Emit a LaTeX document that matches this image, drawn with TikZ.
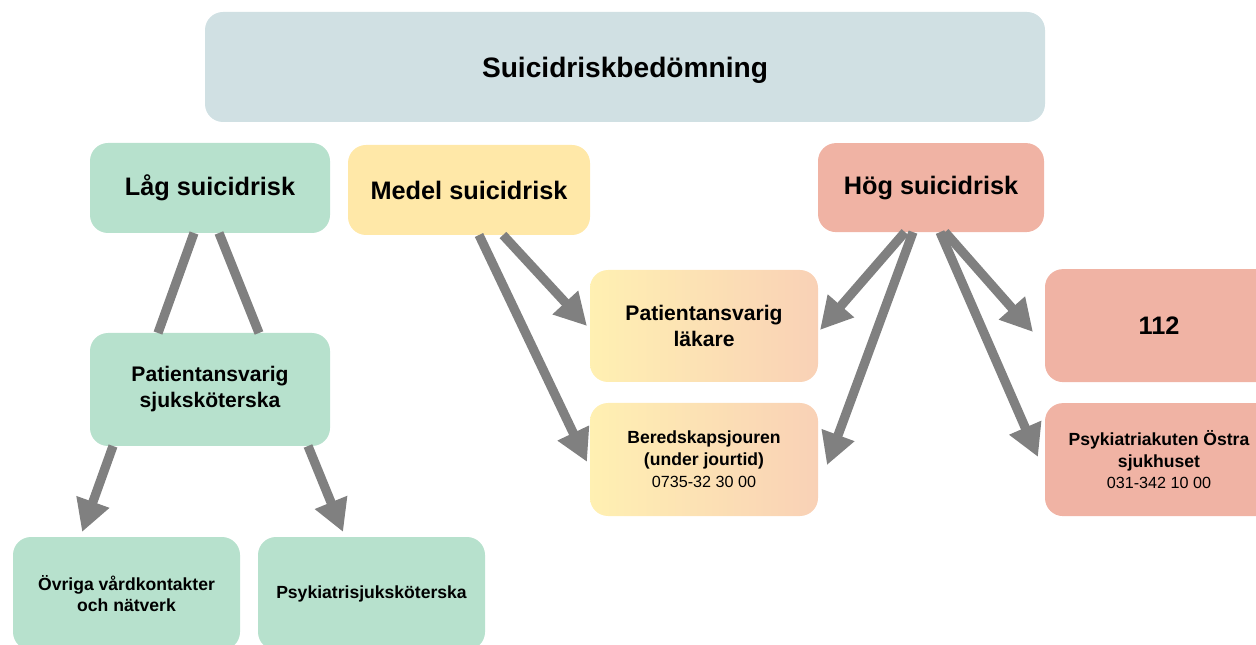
\documentclass[tikz,border=0pt]{standalone}
\usepackage{fontspec}
\setmainfont{Liberation Sans}
\usetikzlibrary{arrows.meta}

\definecolor{headblue}{HTML}{D0E0E3}
\definecolor{lowgreen}{HTML}{B7E1CD}
\definecolor{medyellow}{HTML}{FFE8A8}
\definecolor{highred}{HTML}{F0B3A4}
\definecolor{gradleft}{HTML}{FFF0B2}
\definecolor{gradright}{HTML}{F9D1B6}
\definecolor{arrowgray}{HTML}{808080}

\tikzset{
  box/.style={rounded corners=0.45cm, align=center, inner sep=0pt, outer sep=0pt, font=\bfseries},
  big/.style={font=\bfseries\fontsize{18}{21.6}\selectfont},
  mid/.style={font=\bfseries\fontsize{15}{18.5}\selectfont},
  small/.style={font=\bfseries\fontsize{12.5}{15.5}\selectfont},
  arr/.style={line width=0.23cm, draw=arrowgray, -{Triangle[length=0.8cm,width=0.82cm]}},
  link/.style={line width=0.23cm, draw=arrowgray}
}
\newcommand{\phone}[1]{{\mdseries\fontsize{11.5}{14}\selectfont #1}}

\begin{document}
\begin{tikzpicture}
\useasboundingbox (0,0) rectangle (31.4,16.1);
\clip (0,0) rectangle (31.4,16.1);

% header
\node[box, fill=headblue, minimum width=21cm, minimum height=2.75cm, text depth=0pt, font=\bfseries\fontsize{20}{24}\selectfont] (head) at (15.625,14.425) {Suicidriskbedömning};

% risk levels
\node[box, big, fill=lowgreen, minimum width=6cm, minimum height=2.25cm] (low) at (5.25,11.4) {Låg suicidrisk};
\node[box, big, fill=medyellow, minimum width=6.05cm, minimum height=2.25cm] (med) at (11.725,11.35) {Medel suicidrisk};
\node[box, big, fill=highred, minimum width=5.65cm, minimum height=2.225cm] (high) at (23.275,11.41) {Hög suicidrisk};

% contacts
\node[box, mid, left color=gradleft, right color=gradright, minimum width=5.7cm, minimum height=2.8cm] (lakare) at (17.6,7.95) {Patientansvarig\\läkare};
\node[box, small, left color=gradleft, right color=gradright, minimum width=5.7cm, minimum height=2.825cm] (bered) at (17.6,4.6125) {Beredskapsjouren\\(under jourtid)\\\phone{0735-32 30 00}};
\node[box, big, fill=highred, minimum width=5.7cm, minimum height=2.825cm] (n112) at (28.975,7.96) {112};
\node[box, small, fill=highred, minimum width=5.7cm, minimum height=2.825cm] (akuten) at (28.975,4.61) {Psykiatriakuten Östra\\sjukhuset\\\phone{031-342 10 00}};
\node[box, mid, fill=lowgreen, minimum width=6cm, minimum height=2.825cm] (ssk) at (5.25,6.3625) {Patientansvarig\\sjuksköterska};
\node[box, small, fill=lowgreen, minimum width=5.675cm, minimum height=2.825cm] (ovriga) at (3.1625,1.2625) {Övriga vårdkontakter\\och nätverk};
\node[box, small, fill=lowgreen, minimum width=5.675cm, minimum height=2.825cm] (psyk) at (9.2875,1.2625) {Psykiatrisjuksköterska};

% connectors
\draw[link] ([xshift=-4mm]low.south) -- ([xshift=-13mm]ssk.north);
\draw[link] ([xshift=2.25mm]low.south) -- ([xshift=12.25mm]ssk.north);
\draw[arr] ([xshift=-24.25mm]ssk.south) -- ([xshift=-11.1mm,yshift=1.25mm]ovriga.north);
\draw[arr] ([xshift=24.5mm]ssk.south) -- ([xshift=-7.1mm,yshift=1.25mm]psyk.north);
\draw[arr] ([xshift=8.5mm]med.south) -- ([xshift=-0.75mm]lakare.west);
\draw[arr] ([xshift=2.5mm]med.south) -- ([xshift=-0.75mm,yshift=-0.6mm]bered.west);
\draw[arr] ([xshift=-6.5mm]high.south) -- ([xshift=0.5mm,yshift=-1mm]lakare.east);
\draw[arr] ([xshift=-4.5mm]high.south) -- ([xshift=2.25mm,yshift=-1.4mm]bered.east);
\draw[arr] ([xshift=3.5mm]high.south) -- ([xshift=-3mm,yshift=-1.6mm]n112.west);
\draw[arr] ([xshift=2.25mm]high.south) -- ([xshift=-1.75mm,yshift=0.65mm]akuten.west);
\end{tikzpicture}
\end{document}
